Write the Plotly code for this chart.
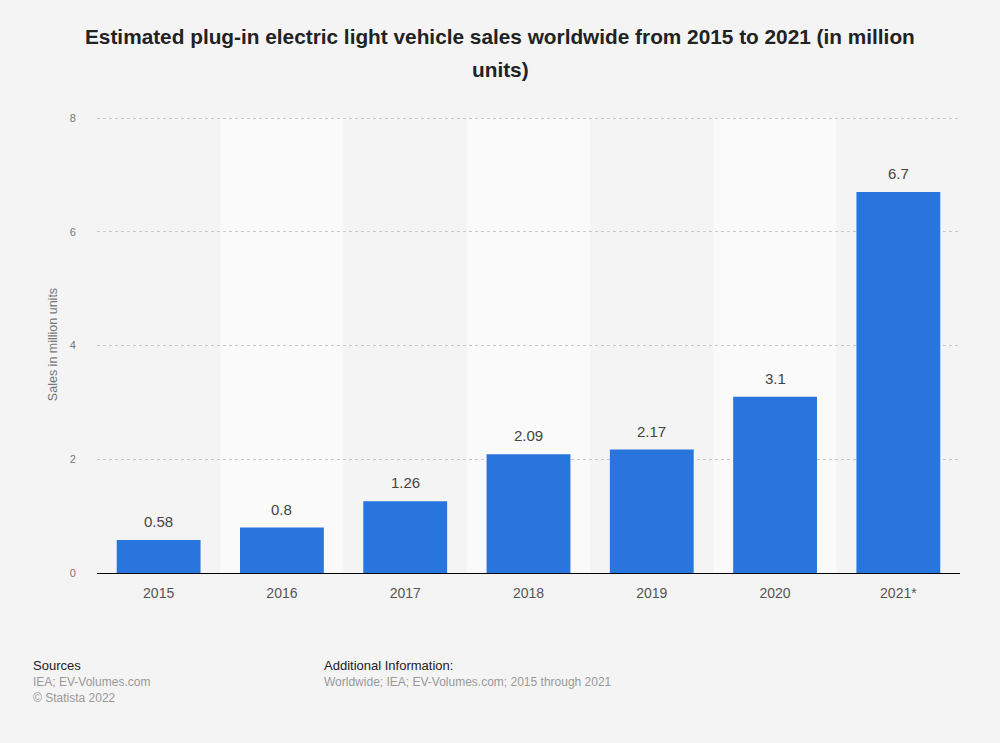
import plotly.graph_objects as go

categories = ["2015", "2016", "2017", "2018", "2019", "2020", "2021*"]
values = [0.58, 0.8, 1.26, 2.09, 2.17, 3.1, 6.7]
value_labels = ["0.58", "0.8", "1.26", "2.09", "2.17", "3.1", "6.7"]
y_ticks = [0, 2, 4, 6, 8]

title_line1 = "<b>Estimated plug-in electric light vehicle sales worldwide from 2015 to 2021 (in million</b>"
title_line2 = "<b>units)</b>"
y_title = "Sales in million units"

W, H = 1000, 743
L, R, T, B = 97, 40, 116, 170
pw, ph = W - L - R, H - T - B
y_top = 8 * ph / 455.0


def px(x):
    return (x - L) / pw


def py(y):
    return (H - B - y) / ph


fig = go.Figure()
fig.add_trace(go.Bar(
    x=categories, y=values,
    marker=dict(color="#2876dd", line=dict(width=0)),
    cliponaxis=False, hoverinfo="skip",
))

shapes = []
for i in range(len(categories)):
    if i % 2 == 1:
        shapes.append(dict(type="rect", xref="x", yref="y", x0=i - 0.5, x1=i + 0.5,
                           y0=0, y1=8, fillcolor="#fafafa", line=dict(width=0), layer="below"))

label_font = dict(family="Arial, Liberation Sans", size=15, color="#444")
foot_big = dict(size=13, color="#222", family="Arial, Liberation Sans")
foot_small = dict(size=12, color="#999", family="Arial, Liberation Sans")
title_font = dict(family="Arial, Liberation Sans", size=20.8, color="#222")

annotations = []
for i, (v, t) in enumerate(zip(values, value_labels)):
    annotations.append(dict(text=t, x=i, y=v, xref="x", yref="y", showarrow=False,
                            xanchor="center", yanchor="bottom", yshift=8, font=label_font))

annotations += [
    dict(text=title_line1, x=px(500), y=py(37), xref="paper", yref="paper", showarrow=False,
         xanchor="center", yanchor="middle", font=title_font),
    dict(text=title_line2, x=px(500), y=py(69), xref="paper", yref="paper", showarrow=False,
         xanchor="center", yanchor="middle", font=title_font),
    dict(text="Sources", x=px(31), y=py(665), xref="paper", yref="paper", showarrow=False,
         xanchor="left", yanchor="middle", font=foot_big),
    dict(text="IEA; EV-Volumes.com", x=px(31), y=py(682), xref="paper", yref="paper", showarrow=False,
         xanchor="left", yanchor="middle", font=foot_small),
    dict(text="© Statista 2022", x=px(31), y=py(698), xref="paper", yref="paper", showarrow=False,
         xanchor="left", yanchor="middle", font=foot_small),
    dict(text="Additional Information:", x=px(322), y=py(665), xref="paper", yref="paper", showarrow=False,
         xanchor="left", yanchor="middle", font=foot_big),
    dict(text="Worldwide; IEA; EV-Volumes.com; 2015 through 2021", x=px(322), y=py(682), xref="paper",
         yref="paper", showarrow=False, xanchor="left", yanchor="middle", font=foot_small),
]

fig.update_layout(
    width=W, height=H,
    paper_bgcolor="#f4f4f4", plot_bgcolor="#f4f4f4",
    margin=dict(l=L, r=R, t=T, b=B),
    bargap=0.32,
    showlegend=False,
    shapes=shapes,
    annotations=annotations,
    font=dict(family="Arial, Liberation Sans"),
    xaxis=dict(type="category", showgrid=False, showline=True, linecolor="#000", linewidth=1.2,
               tickfont=dict(size=14, color="#555"), ticks="outside", ticklen=7,
               tickcolor="rgba(0,0,0,0)", range=[-0.5, len(categories) - 0.5]),
    yaxis=dict(range=[0, y_top], tickvals=y_ticks, showgrid=True, gridcolor="#c8c8c8",
               griddash="dot", gridwidth=1, zeroline=False,
               tickfont=dict(size=11, color="#777"), ticks="outside", ticklen=18, tickcolor="rgba(0,0,0,0)",
               title=dict(text=y_title, font=dict(size=12.5, color="#777"), standoff=9)),
)

fig.write_html("out.html", config={"displayModeBar": False},
               post_script="document.body.style.margin='0';document.body.style.padding='0';")
